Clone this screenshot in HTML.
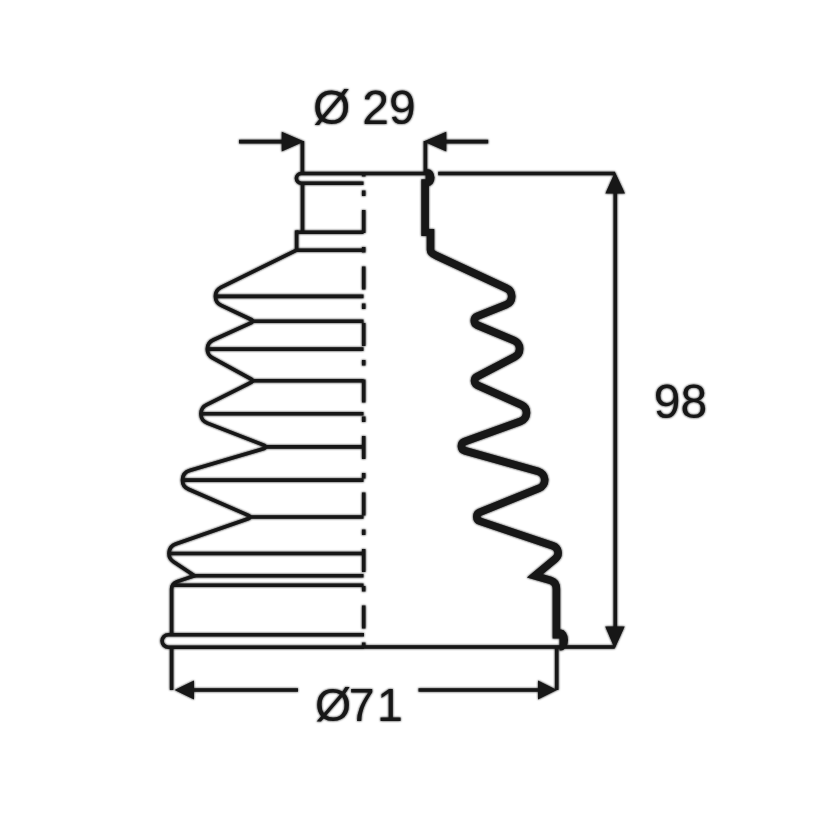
<!DOCTYPE html>
<html><head><meta charset="utf-8"><title>Boot</title>
<style>
html,body{margin:0;padding:0;background:#fff;}
body{width:823px;height:823px;overflow:hidden;font-family:"Liberation Sans",sans-serif;}
svg{display:block;}
</style></head><body>
<svg width="823" height="823" viewBox="0 0 823 823">
<rect width="823" height="823" fill="#fff"/>
<defs><filter id="soft" x="0" y="0" width="823" height="823" filterUnits="userSpaceOnUse"><feGaussianBlur stdDeviation="0.9"/></filter>
<g id="art">
<g fill="none" stroke="#171717" stroke-width="3.6" stroke-linejoin="round" stroke-linecap="butt">
<path d="M 363.5,183.2 L 301.25,183.2 A 4.85,4.85 0 0 1 301.25,173.5 L 427,173.5"/>
<path d="M 302.5,183 L 302.5,232.2"/>
<path d="M 296.6,230.4 L 296.6,250.2"/>
<path d="M 296.60,250.20 L 220.98,287.43 A 10.00,10.00 0 0 0 221.15,305.45 L 251.58,319.75 A 1.60,1.60 0 0 1 251.56,322.66 L 213.18,339.99 A 10.00,10.00 0 0 0 212.48,357.86 L 251.67,379.40 A 1.60,1.60 0 0 1 251.62,382.23 L 206.42,404.86 A 10.00,10.00 0 0 0 207.26,423.12 L 264.38,445.41 A 1.60,1.60 0 0 1 264.25,448.43 L 189.66,470.51 A 10.00,10.00 0 0 0 188.51,489.27 L 248.94,515.53 A 1.60,1.60 0 0 1 248.83,518.51 L 175.70,544.06 A 10.00,10.00 0 0 0 173.47,561.83 L 194.50,575.80 L 177,581.6 Q 171.6,583.4 171.6,589 L 171.6,634.5"/>
<path d="M 296.6,232.2 L 363.5,232.2"/>
<path d="M 296.6,250.2 L 363.5,250.2"/>
<path d="M 215.4,296.4 L 363.5,296.4"/>
<path d="M 252.5,321.2 L 363.5,321.2"/>
<path d="M 207.3,349.1 L 363.5,349.1"/>
<path d="M 252.5,380.8 L 363.5,380.8"/>
<path d="M 200.9,413.8 L 363.5,413.8"/>
<path d="M 265.4,446.9 L 363.5,446.9"/>
<path d="M 182.5,480.1 L 363.5,480.1"/>
<path d="M 249.9,517.0 L 363.5,517.0"/>
<path d="M 169.0,553.5 L 363.5,553.5"/>
<path d="M 194,575.8 L 363.5,575.8"/>
<path d="M 172,585.3 L 363.5,585.3"/>
<path d="M 364,634.7 L 168.35,634.7 A 6.25,6.25 0 0 0 168.35,647.2 L 364,647.2"/>
<path d="M 364,647 L 614.5,647"/>
<path d="M 363.7,173.5 L 363.7,648" stroke-dasharray="23,14,5.5,14" stroke-dashoffset="20"/>
<path d="M 239,141.6 L 284,141.6 M 445,141.6 L 488.2,141.6"/>
<path d="M 302.4,141 L 302.4,173 M 425.4,141 L 425.4,175"/>
<path d="M 438.2,173.5 L 615,173.5"/>
<path d="M 615.3,190 L 615.3,630"/>
<path d="M 171.6,647 L 171.6,690 M 556.7,647 L 556.7,690"/>
<path d="M 192,690 L 298,690 M 418.5,690 L 540,690"/>
</g>
<g fill="#171717" stroke="none">
<path d="M 304.2,141.6 L 281.7,131.7 L 281.7,151.5 Z"/>
<path d="M 423.6,141.6 L 446.3,131.7 L 446.3,151.5 Z"/>
<path d="M 615,171.9 L 605.4,193.4 L 625,193.4 Z"/>
<path d="M 614.7,648.7 L 605.2,626.4 L 624.7,626.4 Z"/>
<path d="M 174.5,690 L 194,680.5 L 194,699.5 Z"/>
<path d="M 557,690 L 538,680.5 L 538,699.5 Z"/>
</g>
<g fill="none" stroke="#171717" stroke-width="7.6" stroke-linejoin="miter" stroke-linecap="butt">
<path d="M 425.1,179.3 L 425.1,236"/>
<path d="M 430.5,229 L 430.5,250 Q 430.5,253.2 436.5,255.8 L 506.48,288.23 A 9.00,9.00 0 0 1 506.04,304.76 L 477.32,316.24 A 4.80,4.80 0 0 0 477.24,325.13 L 514.09,340.60 A 9.00,9.00 0 0 1 514.76,356.88 L 477.08,376.54 A 4.80,4.80 0 0 0 477.35,385.19 L 521.16,404.68 A 9.00,9.00 0 0 1 520.56,421.36 L 464.57,441.59 A 4.80,4.80 0 0 0 464.90,450.72 L 538.14,471.34 A 9.00,9.00 0 0 1 539.07,488.35 L 479.80,512.25 A 4.80,4.80 0 0 0 480.06,521.25 L 553.00,545.89 A 7.50,7.50 0 0 1 555.38,558.78 L 534.80,575.80 L 550.5,580.4 Q 556.4,582 556.4,589 L 556.4,638.4"/>
</g>
<path d="M 425.6,169.2 L 428,169.2 A 6.5,8.5 0 0 1 428,186.2 L 425.6,186.2 Z" fill="#171717"/>
<path d="M 559.5,629.6 L 561,629.6 A 7,10.4 0 0 1 561,650.4 L 559.5,650.4 Z" fill="#171717"/>
<g style="will-change:transform" fill="#171717" font-family="Liberation Sans, sans-serif">
<text x="313" y="124.3" font-size="48px" word-spacing="-1.3">Ø 29</text>
<text x="653.7" y="418" font-size="48px">98</text>
<text x="315" y="721" font-size="46.5px">Ø<tspan dx="-2.5">7</tspan><tspan dx="2.5">1</tspan></text>
</g>
</g></defs>
<use href="#art" filter="url(#soft)"/>
<use href="#art"/>
</svg>
</body></html>
